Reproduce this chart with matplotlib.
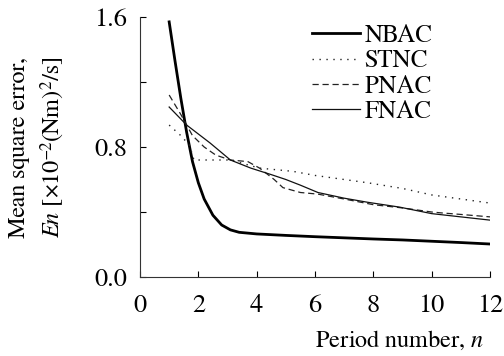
import numpy as np
import matplotlib
matplotlib.use("Agg")
import matplotlib.pyplot as plt

plt.rcParams['font.family'] = ['FreeSerif', 'Liberation Serif', 'DejaVu Serif']
plt.rcParams['mathtext.fontset'] = 'custom'
plt.rcParams['mathtext.rm'] = 'FreeSerif'
plt.rcParams['mathtext.it'] = 'FreeSerif:italic'

# curves
nbac_x = [1.0, 1.2, 1.4, 1.6, 1.8, 2.0, 2.2, 2.5, 2.8, 3.1, 3.4, 4, 5, 6, 7, 8, 9, 10, 11, 12]
nbac_y = [1.57, 1.33, 1.10, 0.89, 0.71, 0.58, 0.48, 0.38, 0.32, 0.29, 0.275, 0.265,
          0.256, 0.248, 0.241, 0.234, 0.228, 0.22, 0.212, 0.203]

stnc_x = [1.0, 1.4, 1.7, 1.85, 3.1, 4.1, 5.25, 6.0, 7.0, 7.8, 9.0, 10.0, 11.0, 12.0]
stnc_y = [0.935, 0.87, 0.81, 0.72, 0.72, 0.67, 0.65, 0.625, 0.60, 0.58, 0.545, 0.505, 0.48, 0.455]

pnac_x = [1.0, 1.4, 1.8, 2.2, 2.6, 3.1, 3.7, 4.1, 4.6, 4.9, 5.5, 6.1, 7, 8, 9, 10, 10.3, 11, 12]
pnac_y = [1.12, 1.0, 0.87, 0.80, 0.75, 0.72, 0.71, 0.67, 0.60, 0.55, 0.52, 0.51, 0.48,
          0.445, 0.425, 0.40, 0.395, 0.385, 0.37]

fnac_x = [1.0, 1.6, 2.4, 3.1, 3.8, 4.5, 5.0, 5.5, 6.1, 7, 7.8, 8.9, 10, 11, 12]
fnac_y = [1.046, 0.935, 0.825, 0.72, 0.67, 0.63, 0.60, 0.565, 0.52, 0.485, 0.46, 0.43, 0.39, 0.37, 0.35]

xticks = [0, 2, 4, 6, 8, 10, 12]
yticks = [0.0, 0.4, 0.8, 1.2, 1.6]
ytick_labels = ['0.0', '', '0.8', '', '1.6']

fig = plt.figure(figsize=(5.04, 3.56), dpi=100)
ax = fig.add_axes([140/504, 1 - 277/356, 350/504, 260/356])

ax.plot(nbac_x, nbac_y, color='black', lw=2.0, label='NBAC')
ax.plot(stnc_x, stnc_y, color='#222222', lw=1.0, linestyle=(0, (1, 4)), label='STNC')
ax.plot(pnac_x, pnac_y, color='#222222', lw=0.9, linestyle=(0, (5, 3)), label='PNAC')
ax.plot(fnac_x, fnac_y, color='#111111', lw=0.9, label='FNAC')

ax.set_xlim(0, 12)
ax.set_ylim(0, 1.6)
ax.set_xticks(xticks)
ax.set_yticks(yticks)
ax.set_yticklabels(ytick_labels)
ax.tick_params(direction='in', length=4, width=0.8, labelsize=19)
ax.tick_params(axis='x', pad=12)
ax.tick_params(axis='y', pad=9)

for s in ['top', 'right']:
    ax.spines[s].set_visible(False)
for s in ['left', 'bottom']:
    ax.spines[s].set_linewidth(0.8)
    ax.spines[s].set_color('#333333')

ax.set_ylabel('Mean square error,\n$En$ [$\\times$10$^{-2}$(Nm)$^2$/s]',
              fontsize=17.5, linespacing=1.4)
ax.yaxis.set_label_coords(-0.21, 0.5)
ax.set_xlabel('Period number, $n$', fontsize=17.5)
ax.xaxis.set_label_coords(0.985, -0.2)
ax.xaxis.label.set_ha('right')

ax.legend(loc='upper left', bbox_to_anchor=(312/504, 1 - 24/356),
          bbox_transform=fig.transFigure, frameon=False, fontsize=18,
          handlelength=1.9, handletextpad=0.2, labelspacing=0.05,
          borderpad=0, borderaxespad=0)

fig.savefig('out.png', dpi=100)
